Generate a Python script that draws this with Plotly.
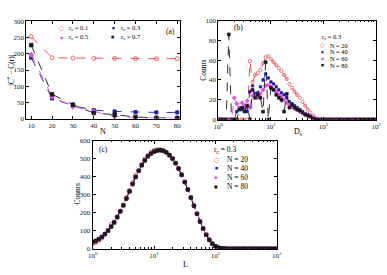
import plotly.graph_objects as go

W, H = 387, 275

# ---------------- data ----------------
# panel (a)
N_vals = [10, 20, 30, 40, 50, 60, 70, 80]
a_r01 = [253, 188, 187, 186, 186, 185, 185, 185]
a_r03 = [188, 62, 40, 26, 22, 20, 19, 19]
a_r05 = [197, 68, 37, 22, 7, 3, 2, 1]
a_r07 = [227, 75, 43, 17, 12, 5, 2, 2]
a_labels = ["r<sub>c</sub> = 0.1", "r<sub>c</sub> = 0.3", "r<sub>c</sub> = 0.5", "r<sub>c</sub> = 0.7"]

# log-spaced bin centres shared by panels (b) and (c)
log_bins = [1.00, 1.12, 1.26, 1.41, 1.58, 1.78, 2.00, 2.24, 2.51, 2.82,
            3.16, 3.55, 3.98, 4.47, 5.01, 5.62, 6.31, 7.08, 7.94, 8.91,
            10.0, 11.2, 12.6, 14.1, 15.8, 17.8, 20.0, 22.4, 25.1, 28.2,
            31.6, 35.5, 39.8, 44.7, 50.1, 56.2, 63.1, 70.8, 79.4, 89.1,
            100, 112, 126, 141, 158, 178, 200, 224, 251, 282,
            316, 355, 398, 447, 501, 562, 631, 708, 794, 891, 1000]

# panel (b): counts vs D_s
b_N20 = [0] * 12 + [59, 38, 45, 47, 50, 57, 63, 64, 61, 58, 55, 52, 49, 45, 41, 36, 32, 28,
                    25, 22, 18, 14, 10, 7, 4, 1] + [0] * 23
b_N40 = [0] * 7 + [8, 12, 10, 12, 8, 28, 34, 26, 27, 33, 40, 46, 42, 38, 36, 33, 30, 27, 25,
                   22, 18, 16, 14, 12, 10, 8, 6, 5, 3, 2, 1] + [0] * 23
b_N60 = [0] * 6 + [22, 16, 11, 17, 14, 19, 12, 24, 24, 22, 26, 30, 34, 35, 33, 30, 28, 25, 23,
                   20, 17, 15, 13, 11, 10, 8, 7, 5, 4, 3, 2, 1] + [0] * 23
b_N80 = [0, 0, 0, 0, 86, 0, 0, 0, 10, 12, 8, 14, 0, 30, 22, 25, 22, 8, 58, 0, 32, 30, 25, 22,
         20, 8, 26, 12, 15, 12, 10, 9, 7, 5, 4, 3, 1, 0] + [0] * 23
b_labels = ["N = 20", "N = 40", "N = 60", "N = 80"]

# panel (c): counts vs L
c_N20 = [25, 33, 45, 58, 78, 102, 135, 150, 178, 210, 240, 285, 325, 370, 410, 432, 470, 500,
         520, 537, 548, 552, 553, 548, 538, 520, 500, 476, 446, 410, 370, 328, 284, 238, 194,
         151, 112, 77, 49, 27, 13, 6, 2, 1] + [0] * 17
c_N40 = [35, 42, 52, 64, 80, 100, 122, 145, 175, 208, 242, 280, 320, 360, 400, 435, 465, 492,
         515, 530, 540, 547, 549, 546, 537, 522, 502, 477, 447, 412, 372, 330, 285, 240, 195,
         152, 113, 78, 50, 28, 14, 6, 2, 1] + [0] * 17
c_N60 = [32, 40, 50, 62, 79, 99, 123, 146, 176, 207, 243, 281, 318, 361, 401, 434, 466, 491,
         516, 531, 541, 546, 548, 545, 536, 521, 501, 476, 446, 411, 371, 329, 284, 239, 194,
         151, 112, 77, 49, 27, 13, 6, 2, 1] + [0] * 17
c_N80 = [38, 44, 54, 66, 82, 101, 123, 146, 175, 208, 241, 279, 319, 359, 399, 434, 464, 491,
         514, 529, 540, 546, 548, 545, 536, 521, 501, 476, 446, 411, 371, 329, 284, 239, 194,
         151, 112, 77, 49, 28, 14, 6, 2, 1] + [0] * 17

# ---------------- styles ----------------
colors = ["#e8414b", "#1c1ca8", "#e050e0", "#1a1a1a"]
symbols = ["circle-open", "square", "diamond", "square"]
sizes = [3.2, 2.4, 3.2, 2.8]
key_glyph = ["○", "■", "◆", "■"]
key_scale = [1.0, 0.55, 0.8, 0.65]
FONT = "Liberation Serif"


def px(x):
    return x / W


def py(y):
    return 1 - y / H


fig = go.Figure()

# panel (a)
for i, ys in enumerate([a_r01, a_r03, a_r05, a_r07]):
    fig.add_trace(go.Scatter(
        x=N_vals, y=ys, mode="lines+markers", xaxis="x", yaxis="y", showlegend=False,
        line=dict(color=colors[i], width=0.9, dash="dash"),
        marker=dict(symbol=symbols[i], size=sizes[i] + 0.8, color=colors[i],
                    line=dict(color=colors[i], width=0.8))))

# panel (b)
for i, ys in enumerate([b_N20, b_N40, b_N60, b_N80]):
    fig.add_trace(go.Scatter(
        x=log_bins, y=ys, mode="lines+markers", xaxis="x2", yaxis="y2", showlegend=False,
        line=dict(color=colors[i], width=0.9, dash="dash"),
        marker=dict(symbol=symbols[i], size=sizes[i], color=colors[i],
                    line=dict(color=colors[i], width=0.7))))

# panel (c)
for i, ys in enumerate([c_N20, c_N40, c_N60, c_N80]):
    fig.add_trace(go.Scatter(
        x=log_bins, y=ys, mode="lines+markers", xaxis="x3", yaxis="y3", showlegend=False,
        line=dict(color=colors[i], width=0.9, dash="dash"),
        marker=dict(symbol=symbols[i], size=sizes[i] + 0.5, color=colors[i],
                    line=dict(color=colors[i], width=0.8))))

axis_common = dict(showline=True, linecolor="black", linewidth=1, mirror="ticks",
                   ticks="inside", ticklen=3, tickcolor="black", tickwidth=0.8,
                   showgrid=False, zeroline=False,
                   tickfont=dict(family=FONT, size=7, color="#222"))
log_ticks = dict(type="log", range=[0, 3], tickvals=[1, 10, 100, 1000],
                 ticktext=["10<sup>0</sup>", "10<sup>1</sup>", "10<sup>2</sup>", "10<sup>3</sup>"],
                 minor=dict(ticks="inside", ticklen=1.5, tickcolor="black", dtick="D1"))

fig.update_layout(
    width=W, height=H, margin=dict(l=0, r=0, t=0, b=0),
    paper_bgcolor="white", plot_bgcolor="white", showlegend=False,
    xaxis=dict(domain=[px(22), px(180)], anchor="y", range=[7.7, 81.5],
               tickvals=N_vals, **axis_common),
    yaxis=dict(domain=[py(118), py(18)], anchor="x", range=[0, 300], dtick=50, **axis_common),
    xaxis2=dict(domain=[px(219), px(381)], anchor="y2", **log_ticks, **axis_common),
    yaxis2=dict(domain=[py(119), py(17)], anchor="x2", range=[0, 100], dtick=20, **axis_common),
    xaxis3=dict(domain=[px(90), px(279)], anchor="y3", **log_ticks, **axis_common),
    yaxis3=dict(domain=[py(252), py(141)], anchor="x3", range=[0, 600], dtick=100, **axis_common),
)

ann = []


def text(x, y, s, size=8, xanchor="center", angle=0, color="black", family=FONT):
    ann.append(dict(x=px(x), y=py(y), xref="paper", yref="paper", text=s, showarrow=False,
                    xanchor=xanchor, yanchor="middle", textangle=angle,
                    font=dict(family=family, size=size, color=color)))


# axis titles
text(6, 68, "|C<sup>*</sup> − C(r)|", size=7.5, angle=-90)
text(101, 131, "N", size=8)
text(203, 68, "Counts", size=7.5, angle=-90)
text(301, 132, "D<sub>s</sub>", size=8)
text(74, 196, "Counts", size=7.5, angle=-90)
text(185, 268, "L", size=8)

# panel labels
text(170, 28, "(a)", size=7.5)
text(240, 24, "(b)", size=7.5)
text(101, 150, "(c)", size=7.5)

# legend (a): 2 x 2
pos_a = [(58, 24.5), (111, 24.5), (58, 34), (111, 34)]
for i, lab in enumerate(a_labels):
    x0, y0 = pos_a[i]
    text(x0, y0, key_glyph[i], size=5.5 * key_scale[i], color=colors[i], family="DejaVu Sans")
    text(x0 + 6, y0, lab, size=6.5, xanchor="left")

# legend (b)
text(323, 34.5, "r<sub>c</sub> = 0.3", size=6.5, xanchor="left")
for i, lab in enumerate(b_labels):
    y0 = 42.5 + i * 6.8
    text(326, y0, key_glyph[i], size=5 * key_scale[i], color=colors[i], family="DejaVu Sans")
    text(332, y0, lab, size=6.3, xanchor="left")

# legend (c)
text(213, 150, "r<sub>c</sub> = 0.3", size=7.5, xanchor="left")
for i, lab in enumerate(b_labels):
    y0 = 160 + i * 9.3
    text(217, y0, key_glyph[i], size=6 * key_scale[i], color=colors[i], family="DejaVu Sans")
    text(226, y0, lab, size=7.5, xanchor="left")

fig.update_layout(annotations=ann)
fig.write_html("out.html")
